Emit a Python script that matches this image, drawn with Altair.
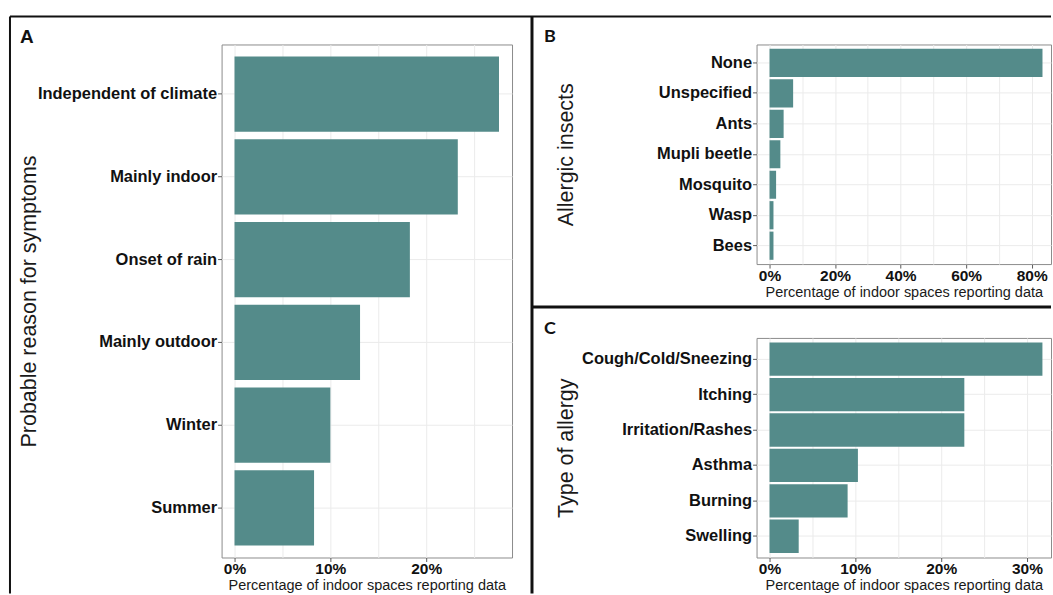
import altair as alt
import pandas as pd

# ---- data (percent of indoor spaces) ----
reason_labels = ["Independent of climate", "Mainly indoor", "Onset of rain",
                 "Mainly outdoor", "Winter", "Summer"]
reason_values = [27.6, 23.3, 18.3, 13.1, 10.0, 8.3]

insect_labels = ["None", "Unspecified", "Ants", "Mupli beetle",
                 "Mosquito", "Wasp", "Bees"]
insect_values = [83.3, 7.2, 4.3, 3.3, 2.0, 1.2, 1.2]

allergy_labels = ["Cough/Cold/Sneezing", "Itching", "Irritation/Rashes",
                  "Asthma", "Burning", "Swelling"]
allergy_values = [31.8, 22.7, 22.7, 10.3, 9.1, 3.4]

# tick values for the percentage axes (minor ones carry only a grid line)
reason_ticks = [0, 5, 10, 15, 20, 25]
insect_ticks = [0, 10, 20, 30, 40, 50, 60, 70, 80]
allergy_ticks = [0, 5, 10, 15, 20, 25, 30]

X_TITLE = "Percentage of indoor spaces reporting data"
TEAL = "#548b8a"
INK = "#111111"
GRID = "#ebebeb"
TICK = "#5a5a5a"
FONT = "Liberation Sans"

one_row = pd.DataFrame({"k": [0]})


def frame_line(x1, y1, x2, y2, w):
    return alt.Chart(one_row).mark_rule(color=INK, strokeWidth=w).encode(
        x=alt.value(x1), x2=alt.value(x2), y=alt.value(y1), y2=alt.value(y2)
    )


def letter(text, x, y, font, size):
    return alt.Chart(one_row).mark_text(
        text=text, font=font, fontSize=size, fontWeight="bold",
        align="center", baseline="middle", color=INK
    ).encode(x=alt.value(x), y=alt.value(y))


def panel(labels, values, y_title, ticks, major, domain, width, height,
          pad_inner, pad_outer, title_x):
    df = pd.DataFrame({"cat": labels, "pct": values})
    x_axis = alt.Axis(
        values=ticks,
        labelExpr=f"datum.value % {major} === 0 ? datum.value + '%' : ''",
        title=X_TITLE, titleFont=FONT, titleFontSize=14.5,
        titleFontWeight="normal", titleColor="#1a1a1a", titlePadding=2,
        labelFont=FONT, labelFontSize=15.5, labelFontWeight="bold",
        labelColor=INK, labelPadding=0, labelFlush=False,
        tickSize=4, tickColor=TICK,
        tickOpacity={"condition": {"test": f"datum.value % {major} !== 0",
                                   "value": 0}, "value": 1},
        domain=False, grid=True, gridColor=GRID, gridWidth=1,
    )
    y_axis = alt.Axis(
        title=y_title, titleFont=FONT, titleFontSize=21.5,
        titleFontWeight="normal", titleColor="#1a1a1a",
        titleX=title_x, titleY=height / 2, titleAngle=270,
        titleAlign="center", titleBaseline="alphabetic",
        labelFont=FONT, labelFontSize=16.5, labelFontWeight="bold",
        labelColor=INK, labelPadding=1,
        tickSize=4, tickColor=TICK, bandPosition=0.5,
        domain=False, grid=True, gridColor=GRID, gridWidth=1,
    )
    bars = alt.Chart(df).mark_bar(color=TEAL).encode(
        x=alt.X("pct:Q", axis=x_axis,
                scale=alt.Scale(domain=domain, nice=False, zero=False)),
        y=alt.Y("cat:N", axis=y_axis, sort=labels,
                scale=alt.Scale(domain=labels, paddingInner=pad_inner,
                                paddingOuter=pad_outer)),
    )
    return bars


# panel A: probable reason for symptoms
bars_a = panel(reason_labels, reason_values, "Probable reason for symptoms",
               reason_ticks, 10, [-1.35, 28.96], 291, 514, 0.09, 0.145, -186)
panel_a = alt.layer(
    bars_a,
    frame_line(-212, -28, -212, 550, 2),
    frame_line(-212, -28, 311, -28, 2),
    frame_line(311, -28, 311, 550, 3),
    letter("A", -195, -7.5, FONT, 19),
).properties(width=291, height=514)

# panel B: allergic insects
bars_b = panel(insect_labels, insect_values, "Allergic insects",
               insect_ticks, 20, [-3.96, 85.9], 295, 220, 0.075, 0.14, -184.5)
panel_b = alt.layer(
    bars_b,
    frame_line(-225, -28, 295, -28, 2),
    frame_line(-225, 263, 295, 263, 3),
    letter("B", -207, -7.5, "Lato", 18),
).properties(width=295, height=220)

# panel C: type of allergy
bars_c = panel(allergy_labels, allergy_values, "Type of allergy",
               allergy_ticks, 10, [-1.51, 32.8], 295, 220, 0.06, 0.13, -184.5)
panel_c = alt.layer(
    bars_c,
    letter("C", -207, -8.5, "Lato", 18),
).properties(width=295, height=220)

right_col = alt.vconcat(panel_b, panel_c, spacing=74, bounds="flush")
chart = alt.hconcat(panel_a, right_col, spacing=245, bounds="flush").properties(
    padding={"left": 8, "top": 14, "right": 0, "bottom": 0},
    background="white",
).configure_view(stroke="#8c8c8c", strokeWidth=1)

chart.save("out.html", embed_options={"renderer": "svg", "actions": False})
